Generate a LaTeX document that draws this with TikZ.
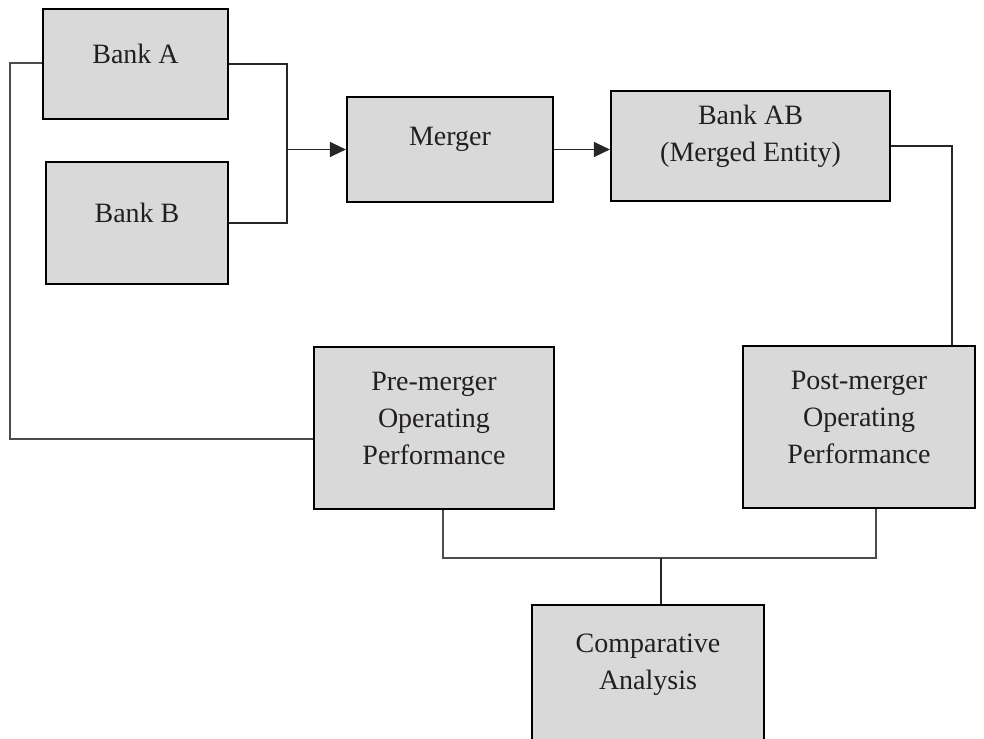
\documentclass[tikz,border=0pt]{standalone}
\usepackage{fontspec}
\setmainfont{Liberation Serif}
\usetikzlibrary{arrows.meta}
\definecolor{boxgray}{HTML}{D9D9D9}
\definecolor{ink}{HTML}{231F20}
\tikzset{
	box/.style={rectangle, draw=black, line width=2.2pt, fill=boxgray, inner sep=0pt},
	lbl/.style={align=center, text=ink, font=\fontsize{28}{37}\selectfont, yshift=10pt},
	conn/.style={draw=black!85, line width=1.5pt},
	thin/.style={draw=black!70, line width=1.1pt},
	arr/.style={conn, -{Triangle[length=16pt,width=15pt]}}
}
\begin{document}
\begin{tikzpicture}[x=1pt, y=-1pt]
		\clip (0,0) rectangle (984,738);
		\node at (135.5,64) [box, minimum width=185, minimum height=110, label={[lbl]center:Bank A}] (bankA) {};
		\node at (137,223) [box, minimum width=182, minimum height=122, label={[lbl]center:Bank B}] (bankB) {};
		\node at (450,149.5) [box, minimum width=206, minimum height=105, label={[lbl]center:Merger}] (merger) {};
		\node at (750.5,146) [box, minimum width=279, minimum height=110, label={[lbl]center:Bank AB\\(Merged Entity)}] (bankAB) {};
		\node at (434,428) [box, minimum width=240, minimum height=162, label={[lbl]center:Pre-merger\\Operating\\Performance}] (pre) {};
		\node at (859,427) [box, minimum width=232, minimum height=162, label={[lbl]center:Post-merger\\Operating\\Performance}] (post) {};
		\node at (648,675) [box, minimum width=232, minimum height=140, label={[lbl]center:Comparative\\Analysis}] (comp) {};
		% junctions
		\coordinate (jn) at (287,149.5);
		\coordinate (jb) at (661,558);
		\coordinate (jl) at (10,63);
		% banks into merger
		\draw[conn] (bankA.east) -| (jn) |- (bankB.east);
		\draw[arr] (jn) -- (jn -| merger.west);
		\draw[arr] (merger.east) -- (merger.east -| bankAB.west);
		% merged entity to post-merger
		\draw[conn] (bankAB.east) -| ([xshift=93pt]post.north);
		% bank A to pre-merger
		\draw[thin] (bankA.west |- jl) -- (jl) |- (pre.west |- 0,439);
		% both periods to comparison
		\draw[thin] ([xshift=9pt]pre.south) |- (jb) -| ([xshift=17pt]post.south);
		\draw[conn] (jb) -- (jb |- comp.north);
	\end{tikzpicture}
\end{document}
